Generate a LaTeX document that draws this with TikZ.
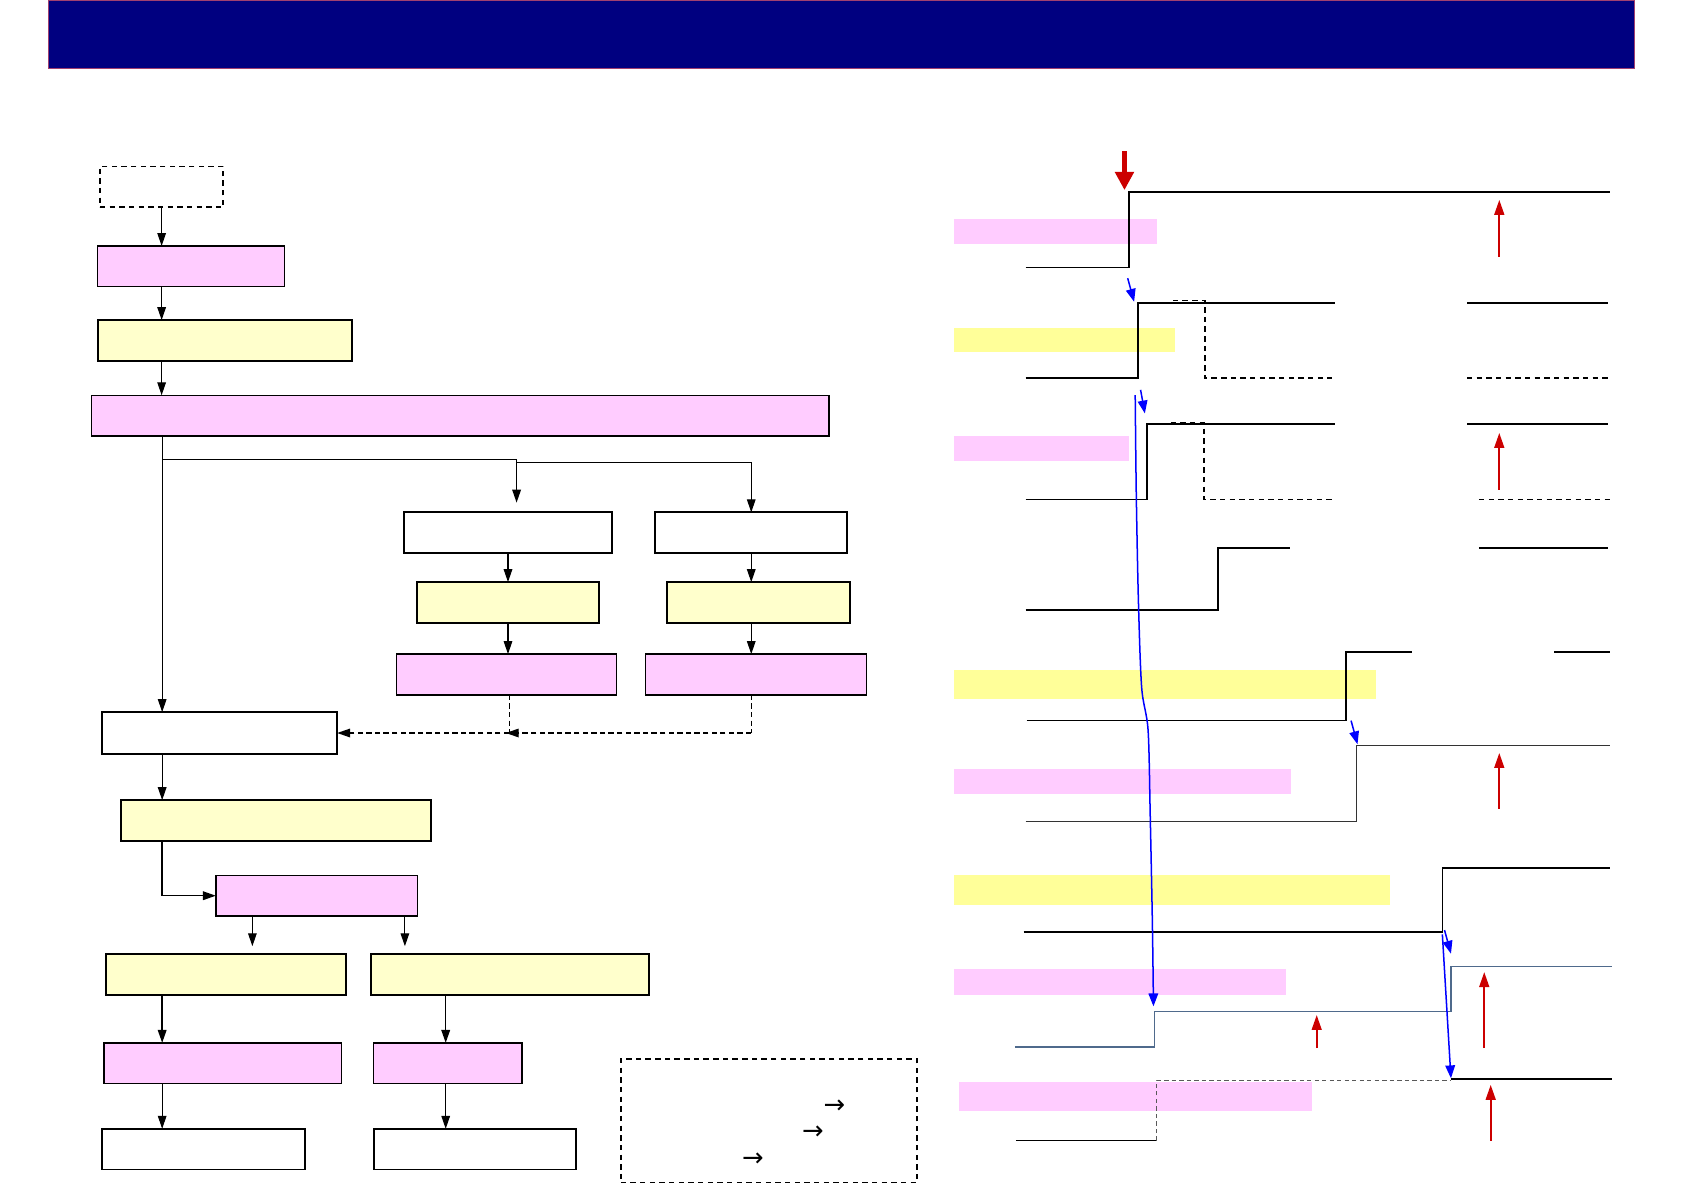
\documentclass[tikz,border=0pt]{standalone}
\usepackage{fontspec}
\newfontfamily\djv{DejaVu Sans}
\usetikzlibrary{arrows.meta,calc}
\definecolor{navyc}{HTML}{000080}
\definecolor{barline}{HTML}{A04070}
\definecolor{pinkc}{HTML}{FFCCFF}
\definecolor{yelc}{HTML}{FFFFCC}
\definecolor{bandp}{HTML}{FFCCFF}
\definecolor{bandy}{HTML}{FFFF99}
\definecolor{redc}{HTML}{CC0000}
\definecolor{bluec}{HTML}{0000FF}
\definecolor{slatec}{HTML}{4F6A8C}
\newcommand\mkbox[6]{\node[#1, minimum width={(#5-#3)*1pt}, minimum height={(#6-#4)*1pt}] (#2) at ({(#3+#5)/2},{-(#4+#6)/2}) {};}
\tikzset{
  bx/.style={draw, inner sep=0pt, outer sep=0pt},
  pinkbox/.style={bx, fill=pinkc, line width=1.3pt},
  yelbox/.style={bx, fill=yelc, line width=1.9pt},
  whitebox/.style={bx, fill=white, line width=1.7pt},
  dashbox/.style={bx, line width=1.7pt, dash pattern=on 5pt off 4pt},
  arr/.style={-{Triangle[length=12pt,width=8pt]}, line width=1pt},
  sig/.style={line width=1.5pt, black},
  sigd/.style={line width=1.4pt, black, dash pattern=on 5pt off 4pt},
  barp/.style={fill=bandp, draw=none},
  bary/.style={fill=bandy, draw=none},
  redup/.style={-{Triangle[length=14pt,width=9pt]}, line width=2.2pt, redc},
  bluear/.style={-{Triangle[length=12pt,width=9pt]}, line width=1.4pt, bluec},
}
\begin{document}
\begin{tikzpicture}[x=1pt,y=1pt]
\useasboundingbox (0,0) rectangle (1568,-1109);
% title bar
\fill[navyc, draw=barline, line width=1pt] (45,0) rectangle (1522,-64);

% ---- left flowchart ----
\mkbox{dashbox}{A}{93}{155}{208}{193}
\mkbox{pinkbox}{B}{91}{229}{265}{267}
\mkbox{yelbox}{C}{91}{298}{328}{336}
\mkbox{pinkbox}{D}{85}{368}{772}{406}
\mkbox{whitebox}{F}{376}{477}{570}{515}
\mkbox{whitebox}{G}{610}{477}{789}{515}
\mkbox{yelbox}{H}{388}{542}{558}{580}
\mkbox{yelbox}{I}{621}{542}{791}{580}
\mkbox{pinkbox}{J}{369}{609}{574}{647}
\mkbox{pinkbox}{K}{601}{609}{807}{647}
\mkbox{whitebox}{E}{95}{663}{314}{702}
\mkbox{yelbox}{L}{113}{745}{401}{783}
\mkbox{pinkbox}{M}{201}{815}{389}{853}
\mkbox{yelbox}{N}{99}{888}{322}{926}
\mkbox{yelbox}{O}{345}{888}{604}{926}
\mkbox{pinkbox}{P}{97}{971}{318}{1009}
\mkbox{pinkbox}{Q}{348}{971}{486}{1009}
\mkbox{whitebox}{R}{95}{1051}{284}{1089}
\mkbox{whitebox}{S}{348}{1051}{536}{1089}
\node[bx, line width=1.4pt, dash pattern=on 5pt off 4pt, minimum width=276pt, minimum height=115pt] (LG) at (716,-1043.5) {};

\coordinate (xa) at (151,0);
\coordinate (xb) at (235,0);
\coordinate (xc) at (377,0);
\coordinate (xd) at (415,0);
\coordinate (br) at (151,-428);
\coordinate (br2) at (481,-431);

\draw[arr] (A.south) -- (A.south |- B.north);
\draw[arr] (A.south |- B.south) -- (A.south |- C.north);
\draw[arr] (A.south |- C.south) -- (A.south |- D.north);
\draw[arr, line width=0.9pt] (D.south -| xa) -- (E.north -| xa);
\draw[arr, line width=1.2pt] (br) -| ([xshift=8pt,yshift=9pt]F.north);
\draw[arr] (br2) -| (G.north);
\draw[arr] (F.south) -- (F.south |- H.north);
\draw[arr] (F.south |- H.south) -- (F.south |- J.north);
\draw[arr] (G.south) -- (G.south |- I.north);
\draw[arr] (G.south |- I.south) -- (G.south |- K.north);
\draw[line width=0.8pt, dash pattern=on 5pt off 3pt] (G.south |- K.south) -- (G.south |- E.east);
\draw[line width=0.8pt, dash pattern=on 5pt off 3pt] (474,-647) coordinate (jd) -- (jd |- E.east);
\draw[arr, line width=1.3pt, dash pattern=on 5pt off 3pt] (G.south |- E.east) -- ([xshift=-3pt]jd |- E.east);
\draw[arr, line width=1.3pt, dash pattern=on 5pt off 3pt] (jd |- E.east) -- (E.east);
\draw[arr] (E.south -| xa) -- (L.north -| xa);
\draw[arr, line width=1.4pt] (L.south -| xa) |- (M.west);
\draw[arr] (M.south -| xb) -- ([yshift=7pt]N.north -| xb);
\draw[arr] (M.south -| xc) -- ([yshift=7pt]O.north -| xc);
\draw[arr, line width=1.4pt] (N.south -| xa) -- (P.north -| xa);
\draw[arr, line width=1.4pt] (O.south -| xd) -- (Q.north -| xd);
\draw[arr] (P.south -| xa) -- (R.north -| xa);
\draw[arr] (Q.south -| xd) -- (S.north -| xd);

\node[font=\djv\fontsize{24}{24}\selectfont, inner sep=0] (la1) at (777,-1030) {→};
\node[font=\djv\fontsize{24}{24}\selectfont, inner sep=0] (la2) at (757,-1055) {→};
\node[font=\djv\fontsize{24}{24}\selectfont, inner sep=0] (la3) at (701,-1080) {→};

% ---- timing diagram ----
\fill[barp] (888,-204) rectangle (1077,-227);
\fill[bary] (888,-305) rectangle (1094,-328);
\fill[barp] (888,-406) rectangle (1051,-429);
\fill[bary] (888,-624) rectangle (1281,-651);
\fill[barp] (888,-716) rectangle (1202,-739);
\fill[bary] (888,-815) rectangle (1294,-843);
\fill[barp] (888,-902) rectangle (1197,-926);
\fill[barp] (893,-1007) rectangle (1222,-1034);

% signal 1
\draw[sig] (955,-249) -- (1051,-249) -- (1051,-179) -- (1499,-179);
% signal 2
\draw[sig, line width=1.9pt] (955,-352) -- (1060,-352) -- (1060,-282) -- (1243,-282);
\draw[sig, line width=1.9pt] (1366,-282) -- (1497,-282);
\draw[sigd] (1092,-280) -- (1122,-280) -- (1122,-352) -- (1240,-352);
\draw[sigd] (1366,-352) -- (1499,-352);
% signal 3
\draw[sig] (955,-465) -- (1068,-465) -- (1068,-395) -- (1243,-395);
\draw[sig] (1366,-395) -- (1497,-395);
\draw[sigd] (1090,-394) -- (1121,-394) -- (1121,-465) -- (1240,-465);
\draw[sigd] (1377,-465) -- (1499,-465);
% signal 4
\draw[sig] (955,-568) -- (1134,-568) -- (1134,-510) -- (1201,-510);
\draw[sig, line width=1.9pt] (1377,-510) -- (1497,-510);
% signal 5
\draw[sig] (956,-671) -- (1253,-671) -- (1253,-607) -- (1315,-607);
\draw[sig] (1447,-607) -- (1499,-607);
% signal 6
\draw[sig, black!80] (955,-765) -- (1263,-765) -- (1263,-694) -- (1499,-694);
% signal 7
\draw[sig] (953,-868) -- (1343,-868) -- (1343,-808) -- (1499,-808);
% signal 8
\draw[line width=1.4pt, slatec] (945,-975) -- (1075,-975) -- (1075,-942) -- (1351,-942) -- (1351,-900) -- (1501,-900);
% signal 9
\draw[sig] (946,-1062) -- (1077,-1062);
\draw[line width=1pt, black!65, dash pattern=on 4pt off 3pt] (1077,-1062) -- (1077,-1006) -- (1351,-1006);
\draw[sig, line width=1.9pt] (1351,-1005) -- (1501,-1005);

% red arrows
\draw[-{Triangle[length=17pt,width=17pt]}, line width=5.5pt, redc] (1047,-141) -- (1047,-177);
\draw[redup] (1396,-239) -- (1396,-186);
\draw[redup] (1396,-456) -- (1396,-403);
\draw[redup] (1396,-753) -- (1396,-701);
\draw[redup] (1226,-976) -- (1226,-945);
\draw[redup] (1382,-976) -- (1382,-905);
\draw[redup] (1388,-1062) -- (1388,-1010);

% blue arrows
\draw[bluear] (1050,-259) -- (1056,-281);
\draw[bluear] (1062,-363) -- (1066,-385);
\draw[bluear] (1258,-671) -- (1264,-693);
\draw[bluear] (1345,-866) -- (1351,-888);
\draw[bluear] plot[smooth] coordinates {(1057,-368) (1058,-460) (1060,-560) (1063,-640) (1069,-680) (1071,-760) (1073,-860) (1074,-937)};
\draw[bluear] (1343,-870) -- (1351,-1004);
\end{tikzpicture}
\end{document}
